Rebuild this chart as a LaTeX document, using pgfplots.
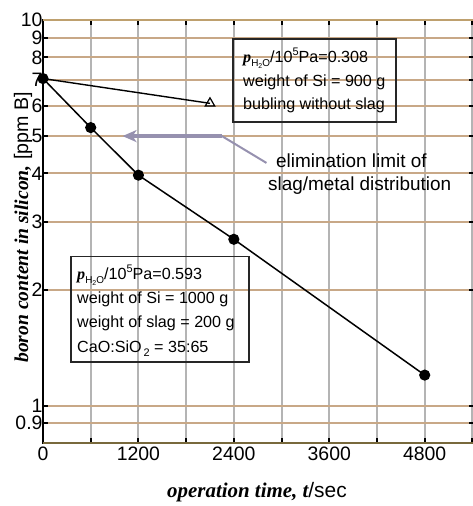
\documentclass[border=0pt]{standalone}
\usepackage{fontspec}
\setmainfont{Liberation Sans}
\newfontfamily\tnr{Liberation Serif}
\usepackage{pgfplots}
\pgfplotsset{compat=1.18}
\usetikzlibrary{arrows.meta}
\definecolor{hgrid}{RGB}{200,168,135}
\definecolor{vgrid}{RGB}{180,180,180}
\definecolor{arrowc}{RGB}{150,145,175}
\definecolor{botc}{RGB}{120,105,60}
\definecolor{topc}{RGB}{190,160,110}
\newcommand{\boxfont}{\fontsize{16.2}{19}\selectfont}
\newcommand{\pH}{{\tnr\bfseries\itshape p}\raisebox{-0.45ex}{\fontsize{10}{10}\selectfont H\raisebox{-0.35ex}{\fontsize{7}{7}\selectfont 2}O}/10\raisebox{0.85ex}{\fontsize{11}{11}\selectfont 5}Pa}
\begin{document}
\begin{tikzpicture}
\useasboundingbox (0,0) rectangle (473bp,506bp);
\begin{axis}[
  at={(43bp,63bp)}, anchor=south west, scale only axis,
  width=431bp, height=423bp,
  xmin=0, xmax=5420, ymin=0.8, ymax=10, ymode=log,
  xtick={0,1200,2400,3600,4800},
  minor xtick={600,1800,3000,4200,5400},
  ytick={0.9,1,2,3,4,5,6,7,8,9,10},
  yticklabels={0.9,1,2,3,4,5,6,7,8,9,10},
  grid=both,
  major grid style={hgrid, line width=2bp},
  minor grid style={vgrid, line width=2bp},
  major x grid style={vgrid, line width=2bp},
  tick align=inside, major tick length=5bp, minor tick length=5bp,
  every tick/.style={black, line width=2bp},
  axis line style={black, line width=1.8bp},
  ticklabel style={font=\fontsize{19.5}{20}\selectfont},
  yticklabel style={xshift=3bp},
  /pgf/number format/assume math mode=true,
  /pgf/number format/1000 sep={},
  scaled x ticks=false,
]
\draw[arrowc, line width=3.2bp, -{Stealth[length=14bp,width=12bp,inset=4bp]}] (axis cs:2250,5) -- (axis cs:1000,5);
\draw[arrowc, line width=2bp] (axis cs:2250,5) -- (axis cs:2810,4.26);
\addplot[black, line width=1.4bp, mark=triangle, mark size=5.5bp, mark indices={2}, mark options={fill=white, solid, line width=1.2bp}] coordinates {(0,7.05) (2100,6.08)};
\addplot[black, line width=1.5bp, mark=*, mark size=4.8bp] coordinates {(0,7.05) (600,5.26) (1200,3.96) (2400,2.70) (4800,1.20)};
\coordinate (BL) at (axis cs:0,0.8);
\coordinate (BR) at (axis cs:5420,0.8);
\coordinate (TL) at (axis cs:0,10);
\coordinate (TR) at (axis cs:5420,10);
\end{axis}
\draw[botc, line width=2bp] (BL) -- (BR);
\draw[topc, line width=2bp] (TL) -- (TR);
% box 1
\draw[black!85, line width=1.6bp] (233bp,467bp) rectangle (396bp,384bp);
\node[anchor=base west, inner sep=0, font=\boxfont] at (243bp,443bp) {\pH=0.308};
\node[anchor=base west, inner sep=0, font=\boxfont] at (243bp,419bp) {weight of Si = 900 g};
\node[anchor=base west, inner sep=0, font=\boxfont] at (243bp,396bp) {bubling without slag};
% box 2
\draw[black!85, line width=1.6bp] (71bp,249.3bp) rectangle (249bp,144bp);
\node[anchor=base west, inner sep=0, font=\boxfont] at (77bp,226bp) {\pH=0.593};
\node[anchor=base west, inner sep=0, font=\boxfont] at (77bp,202bp) {weight of Si = 1000 g};
\node[anchor=base west, inner sep=0, font=\boxfont] at (77bp,178bp) {weight of slag = 200 g};
\node[anchor=base west, inner sep=0, font=\boxfont] at (77bp,153bp) {CaO:SiO\raisebox{-0.45ex}{\fontsize{11}{11}\selectfont\,2} = 35:65};
% annotation
\node[anchor=base west, inner sep=0, font=\fontsize{19}{22}\selectfont] at (276bp,338bp) {elimination limit of};
\node[anchor=base west, inner sep=0, font=\fontsize{19}{22}\selectfont] at (268bp,315.4bp) {slag/metal distribution};
% axis labels
\node[rotate=90, anchor=base, inner sep=0, font=\fontsize{19.7}{24}\selectfont] at (28bp,278.5bp) {{\tnr\bfseries\itshape boron content in silicon,} [ppm B]};
\node[anchor=base, inner sep=0, font=\fontsize{21}{24}\selectfont] at (257bp,9bp) {{\tnr\bfseries\itshape operation time, t}/sec};
\end{tikzpicture}
\end{document}
